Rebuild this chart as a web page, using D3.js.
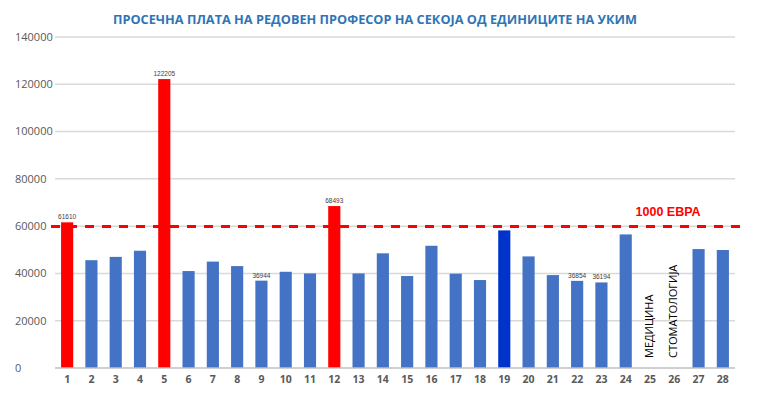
<!DOCTYPE html>
<html><head><meta charset="utf-8">
<script src="https://cdn.jsdelivr.net/npm/d3@7"></script>
<style>body{margin:0;background:#fff}svg{display:block}</style>
</head><body>
<script>
const categories = d3.range(1, 29).map(String);
const values = [61610, 45600, 47000, 49600, 122205, 41000, 45000, 43100, 36944, 40700,
  40000, 68493, 40000, 48500, 38900, 51700, 39900, 37200, 58200, 47200,
  39300, 36854, 36194, 56500, null, null, 50300, 49900];
const redBars = ["1", "5", "12"];
const darkBars = ["19"];
const labeledBars = ["1", "5", "9", "12", "22", "23"];
const yTicks = [0, 20000, 40000, 60000, 80000, 100000, 120000, 140000];
const thresholdValue = 59800;
const thresholdLabel = "1000 ЕВРА";
const missingCats = ["25", "26"];
const missingLabels = ["МЕДИЦИНА", "СТОМАТОЛОГИЈА"];
const title = "ПРОСЕЧНА ПЛАТА НА РЕДОВЕН ПРОФЕСОР НА СЕКОЈА ОД ЕДИНИЦИТЕ НА УКИМ";

const W = 759, H = 398;
const m = {left: 55, right: 24, top: 37, bottom: 30};
const svg = d3.select("body").append("svg").attr("width", W).attr("height", H);

const x = d3.scaleBand().domain(categories).range([m.left, W - m.right]).paddingInner(0.5).paddingOuter(0.25);
const y = d3.scaleLinear().domain([0, 140000]).range([H - m.bottom, m.top]);

// title
svg.append("text").attr("x", 375).attr("y", 24).attr("text-anchor", "middle")
  .attr("font-family", "Open Sans").attr("font-weight", "bold").attr("font-size", 12.5)
  .attr("fill", "#2E75B6").attr("textLength", 524).attr("lengthAdjust", "spacingAndGlyphs")
  .text(title);

// gridlines
svg.append("g").selectAll("line").data(yTicks.slice(1)).join("line")
  .attr("x1", m.left).attr("x2", W - m.right)
  .attr("y1", d => y(d)).attr("y2", d => y(d))
  .attr("stroke", "#D9D9D9").attr("stroke-width", 1.5);

// y labels
svg.append("g").selectAll("text").data(yTicks).join("text")
  .attr("x", 15).attr("y", d => y(d)).attr("dy", "0.35em")
  .attr("font-family", "Open Sans").attr("font-size", 11).attr("fill", "#595959")
  .text(d => d);

// bars
const data = categories.map((c, i) => ({c, v: values[i]})).filter(d => d.v != null);
svg.append("g").selectAll("rect").data(data).join("rect")
  .attr("x", d => x(d.c)).attr("width", x.bandwidth())
  .attr("y", d => y(d.v)).attr("height", d => y(0) - y(d.v))
  .attr("fill", d => redBars.includes(d.c) ? "#FF0000" : darkBars.includes(d.c) ? "#0033CC" : "#4472C4");

// baseline axis
svg.append("line").attr("x1", m.left).attr("x2", W - m.right)
  .attr("y1", y(0)).attr("y2", y(0)).attr("stroke", "#BFBFBF").attr("stroke-width", 1.5);

// x labels
svg.append("g").selectAll("text").data(categories).join("text")
  .attr("x", d => x(d) + x.bandwidth() / 2).attr("y", 383).attr("text-anchor", "middle")
  .attr("font-family", "Open Sans").attr("font-weight", "bold").attr("font-size", 10.5).attr("fill", "#595959")
  .text(d => d);

// data labels
svg.append("g").selectAll("text").data(data.filter(d => labeledBars.includes(d.c))).join("text")
  .attr("x", d => x(d.c) + x.bandwidth() / 2).attr("y", d => y(d.v) - 3).attr("text-anchor", "middle")
  .attr("font-family", "Liberation Sans").attr("font-size", 6.5).attr("fill", "#404040")
  .text(d => d.v);

// threshold dashed line
svg.append("line").attr("x1", 51).attr("x2", 742)
  .attr("y1", y(thresholdValue)).attr("y2", y(thresholdValue))
  .attr("stroke", "#FF0000").attr("stroke-width", 3).attr("stroke-dasharray", "9,8");
svg.append("text").attr("x", 668).attr("y", 216).attr("text-anchor", "middle")
  .attr("font-family", "Liberation Sans").attr("font-weight", "bold").attr("font-size", 12.5).attr("fill", "#FF0000")
  .text(thresholdLabel);

// rotated labels for missing
svg.append("g").selectAll("text").data(missingCats).join("text")
  .attr("transform", d => `translate(${x(d) + x.bandwidth() / 2 - 1},358) rotate(-90)`)
  .attr("dy", "0.35em")
  .attr("font-family", "Open Sans").attr("font-size", 11).attr("fill", "#000")
  .text((d, i) => missingLabels[i]);
</script>
</body></html>
